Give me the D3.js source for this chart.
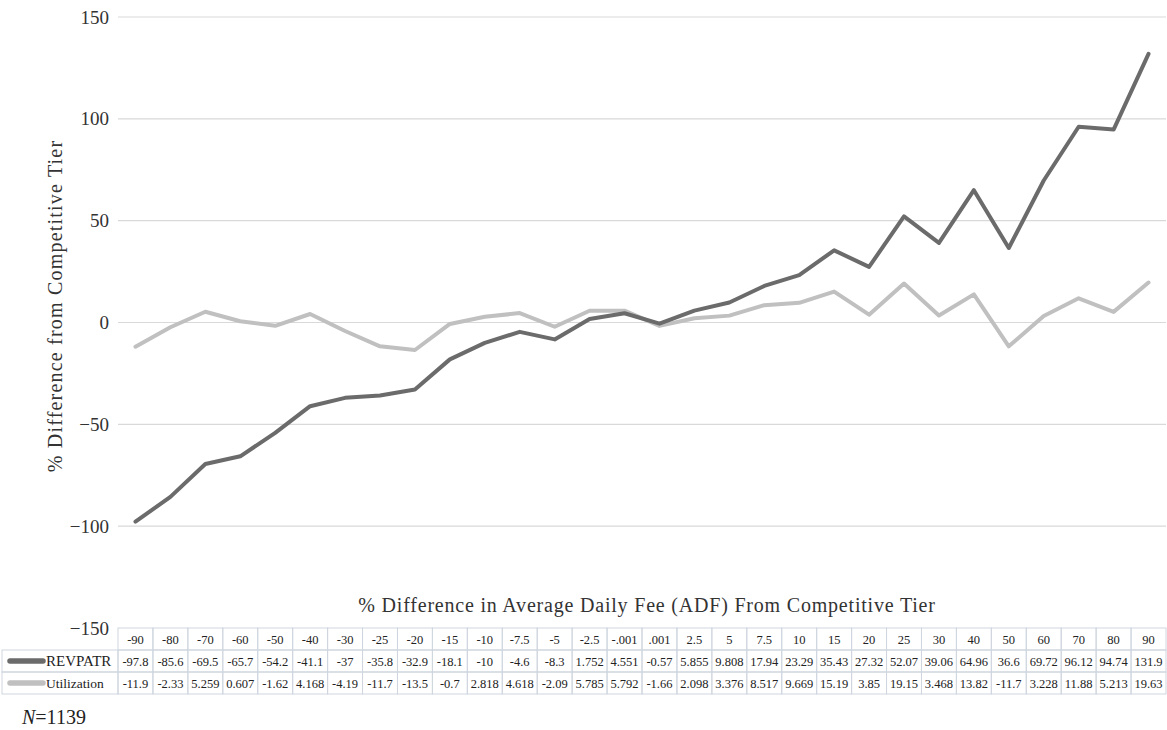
<!DOCTYPE html>
<html>
<head>
<meta charset="utf-8">
<script src="https://cdn.jsdelivr.net/npm/d3@7"></script>
<style>
  body { margin: 0; background: #fff; }
  svg text { font-family: "Liberation Serif", "Times New Roman", serif; }
</style>
</head>
<body>
<div id="chart"></div>
<script>
// x categories: % difference in ADF from competitive tier
const categories = ['-90', '-80', '-70', '-60', '-50', '-40', '-30', '-25', '-20', '-15',
  '-10', '-7.5', '-5', '-2.5', '-.001', '.001', '2.5', '5', '7.5', '10',
  '15', '20', '25', '30', '40', '50', '60', '70', '80', '90'];

const revpatr = [-97.8, -85.6, -69.5, -65.7, -54.2, -41.1, -37, -35.8, -32.9, -18.1,
  -10, -4.6, -8.3, 1.752, 4.551, -0.57, 5.855, 9.808, 17.94, 23.29,
  35.43, 27.32, 52.07, 39.06, 64.96, 36.6, 69.72, 96.12, 94.74, 131.9];

const utilization = [-11.9, -2.33, 5.259, 0.607, -1.62, 4.168, -4.19, -11.7, -13.5, -0.7,
  2.818, 4.618, -2.09, 5.785, 5.792, -1.66, 2.098, 3.376, 8.517, 9.669,
  15.19, 3.85, 19.15, 3.468, 13.82, -11.7, 3.228, 11.88, 5.213, 19.63];

const yTicks = [-150, -100, -50, 0, 50, 100, 150];

const seriesNames = ['REVPATR', 'Utilization'];
const seriesColors = ['#6b6b6b', '#c0c0c0'];

const width = 1167, height = 730;
const plotLeft = 118, plotRight = 1166, plotTop = 17, plotBottom = 628;
const rowH = 22;

const svg = d3.select('#chart')
  .append('svg')
  .attr('width', width)
  .attr('height', height);

const x = d3.scaleBand()
  .domain(categories)
  .range([plotLeft, plotRight]);

const y = d3.scaleLinear()
  .domain([-150, 150])
  .range([plotBottom, plotTop]);

// gridlines (the -150 line is the table's top edge)
svg.append('g')
  .selectAll('line')
  .data(yTicks.filter(d => d > -150))
  .enter().append('line')
  .attr('x1', plotLeft)
  .attr('x2', plotRight)
  .attr('y1', d => y(d))
  .attr('y2', d => y(d))
  .style('stroke', '#d9d9d9')
  .style('stroke-width', 1.2);

// y axis labels
const yAxis = svg.append('g')
  .attr('transform', `translate(${plotLeft - 9},0)`)
  .call(d3.axisLeft(y).tickValues(yTicks).tickSize(0).tickPadding(0));
yAxis.select('.domain').remove();
yAxis.selectAll('text')
  .style('font-size', '19px')
  .style('fill', '#333')
  .style('font-family', '"Liberation Serif", "Times New Roman", serif');

// y title
svg.append('text')
  .attr('transform', 'translate(62,306) rotate(-90)')
  .style('text-anchor', 'middle')
  .style('font-size', '20px')
  .style('letter-spacing', '1.2px')
  .style('fill', '#333')
  .text('% Difference from Competitive Tier');

// x title
svg.append('text')
  .attr('x', 647)
  .attr('y', 612)
  .style('text-anchor', 'middle')
  .style('font-size', '20px')
  .style('letter-spacing', '0.8px')
  .style('fill', '#333')
  .text('% Difference in Average Daily Fee (ADF) From Competitive Tier');

// lines
const line = d3.line()
  .x((d, i) => x(categories[i]) + x.bandwidth() / 2)
  .y(d => y(d));

const seriesData = [revpatr, utilization];

svg.append('g')
  .selectAll('path')
  .data([1, 0])
  .enter().append('path')
  .attr('d', i => line(seriesData[i]))
  .style('fill', 'none')
  .style('stroke', i => seriesColors[i])
  .style('stroke-width', 4)
  .style('stroke-linejoin', 'round')
  .style('stroke-linecap', 'round');

// data table
const table = svg.append('g');
const borderColor = '#cfd6df';

// header cells
table.selectAll('.hcell')
  .data(categories)
  .enter().append('rect')
  .attr('class', 'hcell')
  .attr('x', d => x(d))
  .attr('y', plotBottom)
  .attr('width', x.bandwidth())
  .attr('height', rowH)
  .style('fill', 'none')
  .style('stroke', borderColor);

table.selectAll('.htext')
  .data(categories)
  .enter().append('text')
  .attr('class', 'htext')
  .attr('x', d => x(d) + x.bandwidth() / 2)
  .attr('y', plotBottom + rowH / 2 + 4.5)
  .style('text-anchor', 'middle')
  .style('font-size', '12.5px')
  .style('fill', '#222')
  .text(d => d);

seriesData.forEach((vals, s) => {
  const ry = plotBottom + rowH * (s + 1);
  const row = table.append('g');

  row.append('rect')
    .attr('x', 2)
    .attr('y', ry)
    .attr('width', plotLeft - 2)
    .attr('height', rowH)
    .style('fill', 'none')
    .style('stroke', borderColor);

  row.append('line')
    .attr('x1', 10)
    .attr('x2', 43)
    .attr('y1', ry + rowH / 2)
    .attr('y2', ry + rowH / 2)
    .style('stroke', seriesColors[s])
    .style('stroke-width', 5.5)
    .style('stroke-linecap', 'round');

  row.append('text')
    .attr('x', 46)
    .attr('y', ry + rowH / 2 + 5)
    .style('font-size', s === 0 ? '15px' : '13.5px')
    .style('fill', '#222')
    .text(seriesNames[s]);

  row.selectAll('rect.cell')
    .data(categories)
    .enter().append('rect')
    .attr('class', 'cell')
    .attr('x', d => x(d))
    .attr('y', ry)
    .attr('width', x.bandwidth())
    .attr('height', rowH)
    .style('fill', 'none')
    .style('stroke', borderColor);

  row.selectAll('text.val')
    .data(vals)
    .enter().append('text')
    .attr('class', 'val')
    .attr('x', (d, i) => x(categories[i]) + x.bandwidth() / 2)
    .attr('y', ry + rowH / 2 + 4.5)
    .style('text-anchor', 'middle')
    .style('font-size', '12.5px')
    .style('fill', '#222')
    .text(d => String(d));
});

// sample size note
svg.append('text')
  .attr('x', 22)
  .attr('y', 724)
  .style('font-size', '20px')
  .style('fill', '#222')
  .html('<tspan font-style="italic">N</tspan>=1139');
</script>
</body>
</html>
